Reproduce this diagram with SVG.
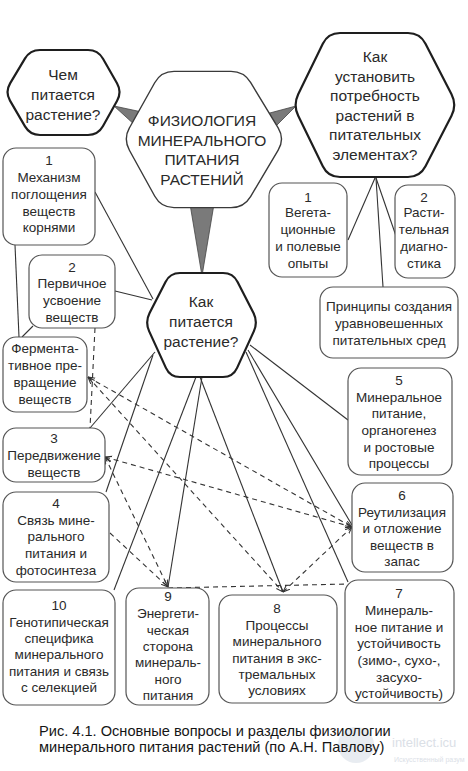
<svg xmlns="http://www.w3.org/2000/svg" width="468" height="771" viewBox="0 0 468 771">
<style>
text{font-family:"Liberation Sans",Arial,sans-serif;fill:#2a2a2a;text-anchor:middle}
.b{font-size:13.5px}
.h{font-size:15.5px}
.box{fill:#fff;stroke:#555;stroke-width:1.2}
.hex{fill:#fff;stroke:#1e1e1e;stroke-width:2.2}
.s{stroke:#333;stroke-width:1.1;fill:none}
.d{stroke:#333;stroke-width:1.1;fill:none;stroke-dasharray:5 4}
.tri{fill:#7a7a7a;stroke:#444;stroke-width:0.8}
.cap{font-size:14.6px;fill:#151515;text-anchor:start}
</style>
<defs>
<marker id="arr" viewBox="0 0 8 8" refX="8" refY="4" markerWidth="7" markerHeight="7" markerUnits="userSpaceOnUse" orient="auto-start-reverse">
<path d="M0,1 L8,4 L0,7" fill="none" stroke="#333" stroke-width="1.2"/>
</marker>
</defs>
<rect width="468" height="771" fill="#fff"/>

<g id="connectors">
<polygon class="tri" points="114,106 142,112 136,126"/>
<polygon class="tri" points="296,106 266,114 274,128"/>
<polygon class="tri" points="190,204 214,204 202,276"/>
<line class="s" x1="95" y1="192" x2="153" y2="299"/>
<line class="s" x1="115" y1="291" x2="152" y2="300"/>
<line class="s" x1="15" y1="245" x2="19" y2="337"/>
<line class="s" x1="33" y1="326" x2="22" y2="337"/>
<line class="s" x1="155" y1="352" x2="90" y2="428"/>
<line class="s" x1="153" y1="355" x2="106" y2="492"/>
<line class="s" x1="196" y1="377" x2="114" y2="590"/>
<line class="s" x1="202" y1="377" x2="168" y2="587"/>
<line class="s" x1="200" y1="377" x2="283" y2="592"/>
<line class="s" x1="250" y1="345" x2="348" y2="420"/>
<line class="s" x1="248" y1="350" x2="352" y2="525"/>
<line class="s" x1="246" y1="352" x2="348" y2="582"/>
<line class="s" x1="375" y1="178" x2="348" y2="240"/>
<line class="s" x1="376" y1="178" x2="396" y2="236"/>
<line class="s" x1="376" y1="178" x2="383" y2="287"/>
<line class="d" x1="95" y1="328" x2="90" y2="428"/>
<line class="d" x1="88" y1="377" x2="352" y2="527" marker-start="url(#arr)" marker-end="url(#arr)"/>
<line class="d" x1="88" y1="377" x2="283" y2="592" marker-start="url(#arr)" marker-end="url(#arr)"/>
<line class="d" x1="105" y1="457" x2="352" y2="527" marker-start="url(#arr)" marker-end="url(#arr)"/>
<line class="d" x1="105" y1="457" x2="168" y2="587" marker-start="url(#arr)" marker-end="url(#arr)"/>
<line class="d" x1="110" y1="533" x2="168" y2="587" marker-end="url(#arr)"/>
<line class="d" x1="168" y1="588" x2="348" y2="584"/>
<line class="d" x1="283" y1="592" x2="352" y2="527" marker-start="url(#arr)" marker-end="url(#arr)"/>
</g>

<g id="q-chem">
<path class="hex" d="M10.1,83.4 L24.9,58.6 Q30,50 40,50 L88,50 Q98,50 103,58.7 L117,83.3 Q122,92 117.1,100.7 L102.9,126.3 Q98,135 88,135 L40,135 Q30,135 25,126.4 L10,100.6 Q5,92 10.1,83.4 Z"/>
<text class="h" x="63" y="80">Чем</text>
<text class="h" x="63" y="100">питается</text>
<text class="h" x="63" y="120">растение?</text>
</g>

<g id="central">
<path d="M130.9,128.5 L156.1,83.5 Q162,73 174,73 L231,73 Q243,73 249.2,83.3 L276.8,128.7 Q283,139 276.8,149.3 L249.2,195.7 Q243,206 231,206 L174,206 Q162,206 156.2,195.5 L130.8,149.5 Q125,139 130.9,128.5 Z" fill="#fff" stroke="#3a3a3a" stroke-width="4.6"/>
<path d="M130.9,128.5 L156.1,83.5 Q162,73 174,73 L231,73 Q243,73 249.2,83.3 L276.8,128.7 Q283,139 276.8,149.3 L249.2,195.7 Q243,206 231,206 L174,206 Q162,206 156.2,195.5 L130.8,149.5 Q125,139 130.9,128.5 Z" fill="#fff" stroke="#fff" stroke-width="1.8"/>
<text class="h" x="202" y="126">ФИЗИОЛОГИЯ</text>
<text class="h" x="202" y="145.5">МИНЕРАЛЬНОГО</text>
<text class="h" x="202" y="165">ПИТАНИЯ</text>
<text class="h" x="202" y="184.5">РАСТЕНИЙ</text>
</g>

<g id="q-ustan">
<path class="hex" d="M298.2,94.2 L322.8,43.8 Q328,33 340,33 L408,33 Q420,33 425.5,43.7 L451.5,94.3 Q457,105 451.5,115.7 L425.5,166.3 Q420,177 408,177 L340,177 Q328,177 322.8,166.2 L298.2,115.8 Q293,105 298.2,94.2 Z"/>
<text class="h" x="375" y="62">Как</text>
<text class="h" x="375" y="81.5">установить</text>
<text class="h" x="375" y="101">потребность</text>
<text class="h" x="375" y="120.5">растений в</text>
<text class="h" x="375" y="140">питательных</text>
<text class="h" x="375" y="159.5">элементах?</text>
</g>

<g id="q-kak">
<path class="hex" d="M149.6,313.1 L165.5,281.9 Q170,273 180,273 L223,273 Q233,273 237.6,281.9 L253.5,313.1 Q258,322 253.9,331.1 L237.1,367.9 Q233,377 223,377 L180,377 Q170,377 165.9,367.9 L149.1,331.1 Q145,322 149.6,313.1 Z"/>
<text class="h" x="201" y="307">Как</text>
<text class="h" x="201" y="327">питается</text>
<text class="h" x="201" y="347">растение?</text>
</g>

<g id="n1">
<rect class="box" x="3" y="148" width="92" height="97" rx="13"/>
<text class="b" x="49" y="165">1</text>
<text class="b" x="49" y="182">Механизм</text>
<text class="b" x="49" y="199">поглощения</text>
<text class="b" x="49" y="216">веществ</text>
<text class="b" x="49" y="232">корнями</text>
</g>

<g id="n2">
<rect class="box" x="29" y="255" width="86" height="73" rx="13"/>
<text class="b" x="72" y="272">2</text>
<text class="b" x="72" y="288">Первичное</text>
<text class="b" x="72" y="305">усвоение</text>
<text class="b" x="72" y="322">веществ</text>
</g>

<g id="n-ferm">
<rect class="box" x="3" y="337" width="84" height="75" rx="13"/>
<text class="b" x="45" y="353">Фермента-</text>
<text class="b" x="45" y="370">тивное пре-</text>
<text class="b" x="45" y="387">вращение</text>
<text class="b" x="45" y="404">веществ</text>
</g>

<g id="n3">
<rect class="box" x="3" y="428" width="102" height="54" rx="13"/>
<text class="b" x="54" y="443">3</text>
<text class="b" x="54" y="460">Передвижение</text>
<text class="b" x="54" y="477">веществ</text>
</g>

<g id="n4">
<rect class="box" x="3" y="492" width="106" height="90" rx="13"/>
<text class="b" x="56" y="508">4</text>
<text class="b" x="56" y="525">Связь мине-</text>
<text class="b" x="56" y="541">рального</text>
<text class="b" x="56" y="558">питания и</text>
<text class="b" x="56" y="575">фотосинтеза</text>
</g>

<g id="n10">
<rect class="box" x="3" y="590" width="112" height="115" rx="13"/>
<text class="b" x="59" y="610">10</text>
<text class="b" x="59" y="627">Генотипическая</text>
<text class="b" x="59" y="643">специфика</text>
<text class="b" x="59" y="659">минерального</text>
<text class="b" x="59" y="676">питания и связь</text>
<text class="b" x="59" y="692">с селекцией</text>
</g>

<g id="n9">
<rect class="box" x="126" y="588" width="83" height="117" rx="13"/>
<text class="b" x="168" y="601">9</text>
<text class="b" x="168" y="618">Энергети-</text>
<text class="b" x="168" y="635">ческая</text>
<text class="b" x="168" y="651">сторона</text>
<text class="b" x="168" y="667">минераль-</text>
<text class="b" x="168" y="684">ного</text>
<text class="b" x="168" y="700">питания</text>
</g>

<g id="n8">
<rect class="box" x="219" y="595" width="118" height="108" rx="13"/>
<text class="b" x="277" y="613">8</text>
<text class="b" x="277" y="630">Процессы</text>
<text class="b" x="277" y="646">минерального</text>
<text class="b" x="277" y="663">питания в экс-</text>
<text class="b" x="277" y="679">тремальных</text>
<text class="b" x="277" y="695">условиях</text>
</g>

<g id="n7">
<rect class="box" x="345" y="580" width="109" height="123" rx="13"/>
<text class="b" x="399" y="598">7</text>
<text class="b" x="399" y="615">Минераль-</text>
<text class="b" x="399" y="632">ное питание и</text>
<text class="b" x="399" y="648">устойчивость</text>
<text class="b" x="399" y="665">(зимо-, сухо-,</text>
<text class="b" x="399" y="682">засухо-</text>
<text class="b" x="399" y="698">устойчивость)</text>
</g>

<g id="n6">
<rect class="box" x="352" y="483" width="101" height="89" rx="13"/>
<text class="b" x="402" y="500">6</text>
<text class="b" x="402" y="517">Реутилизация</text>
<text class="b" x="402" y="533">и отложение</text>
<text class="b" x="402" y="550">веществ в</text>
<text class="b" x="402" y="566">запас</text>
</g>

<g id="n5">
<rect class="box" x="348" y="368" width="104" height="107" rx="13"/>
<text class="b" x="399" y="385">5</text>
<text class="b" x="399" y="402">Минеральное</text>
<text class="b" x="399" y="418">питание,</text>
<text class="b" x="399" y="435">органогенез</text>
<text class="b" x="399" y="452">и ростовые</text>
<text class="b" x="399" y="468">процессы</text>
</g>

<g id="n-princ">
<rect class="box" x="320" y="287" width="138" height="71" rx="13"/>
<text class="b" x="389" y="311">Принципы создания</text>
<text class="b" x="389" y="328">уравновешенных</text>
<text class="b" x="389" y="345">питательных сред</text>
</g>

<g id="n-veg">
<rect class="box" x="269" y="183" width="78" height="94" rx="13"/>
<text class="b" x="308" y="202">1</text>
<text class="b" x="308" y="217">Вегета-</text>
<text class="b" x="308" y="234">ционные</text>
<text class="b" x="308" y="251">и полевые</text>
<text class="b" x="308" y="268">опыты</text>
</g>

<g id="n-rast">
<rect class="box" x="395" y="185" width="60" height="93" rx="13"/>
<text class="b" x="424" y="202">2</text>
<text class="b" x="424" y="217">Расти-</text>
<text class="b" x="424" y="234">тельная</text>
<text class="b" x="424" y="251">диагно-</text>
<text class="b" x="424" y="268">стика</text>
</g>

<g id="watermark" opacity="0.5">
<circle cx="356" cy="745" r="18" fill="#d3dae4"/>
<text x="392" y="747" style="font-size:13px;fill:#b8c2cf;text-anchor:start">intellect.icu</text>
<text x="394" y="762" style="font-size:7px;fill:#b8c2cf;text-anchor:start">Искусственный разум</text>
</g>

<g id="caption">
<text class="cap" x="39" y="736">Рис. 4.1. Основные вопросы и разделы физиологии</text>
<text class="cap" x="39" y="752">минерального питания растений (по А.Н. Павлову)</text>
</g>
</svg>
